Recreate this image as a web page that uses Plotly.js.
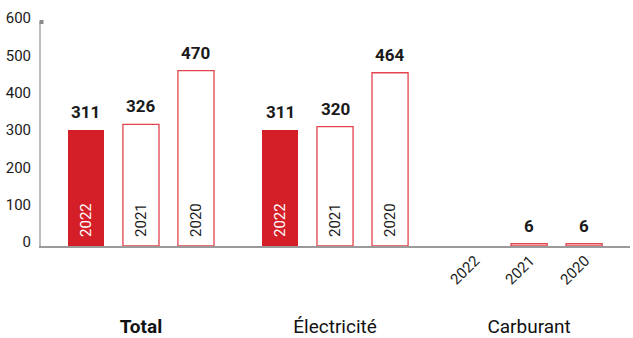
<!DOCTYPE html>
<html>
<head>
<meta charset="utf-8">
<script src="https://cdn.plot.ly/plotly-3.0.1.min.js"></script>
<style>html,body{margin:0;padding:0;background:#fff;}#chart{width:633px;height:338px;}</style>
</head>
<body>
<div id="chart"></div>
<script>
const categories = ['Total', 'Électricité', 'Carburant'];
const categoryLabels = ['<b>Total</b>', 'Électricité', 'Carburant'];
const years = ['2022', '2021', '2020'];
const values2022 = [311, 311, 0];
const values2021 = [326, 320, 6];
const values2020 = [470, 464, 6];

const series = [values2022, values2021, values2020];
const RED = '#d51f28';
const OUTLINE = '#e3434c';
const OFFSET = 0.2835;
const BARW = 0.186;

const traces = [];
const annotations = [];
series.forEach((vals, k) => {
  const xs = categories.map((c, i) => i + (k - 1) * OFFSET);
  traces.push({
    type: 'bar',
    name: years[k],
    x: xs,
    y: vals,
    width: BARW,
    marker: {
      color: k === 0 ? RED : '#ffffff',
      line: {color: k === 0 ? RED : OUTLINE, width: k === 0 ? 0 : 1.3}
    },
    hoverinfo: 'skip',
    showlegend: false
  });
  vals.forEach((v, i) => {
    if (v > 0) {
      annotations.push({
        x: xs[i], y: v, xref: 'x', yref: 'y',
        text: '<b>' + v + '</b>', showarrow: false,
        yanchor: 'bottom', yshift: 6,
        font: {family: 'Roboto', size: 17, color: '#1a1a1a'}
      });
    }
    if (v >= 50) {
      annotations.push({
        x: xs[i], y: 0, xref: 'x', yref: 'y',
        text: years[k], showarrow: false, textangle: -90,
        xanchor: 'center', yanchor: 'middle', yshift: 26,
        font: {family: 'Roboto', size: 15, color: k === 0 ? '#ffffff' : '#1a1a1a'}
      });
    } else {
      annotations.push({
        x: xs[i], y: 0, xref: 'x', yref: 'y',
        text: years[k], showarrow: false, textangle: -45,
        xanchor: 'center', yanchor: 'middle', yshift: -24, xshift: -9,
        font: {family: 'Roboto', size: 15, color: '#1a1a1a'}
      });
    }
  });
});

const layout = {
  width: 633, height: 338,
  margin: {l: 41, r: 3, t: 22, b: 92},
  paper_bgcolor: '#ffffff', plot_bgcolor: '#ffffff',
  font: {family: 'Roboto', color: '#1a1a1a'},
  xaxis: {
    range: [-0.515, 2.52],
    tickvals: categories.map((c, i) => i),
    ticktext: categoryLabels,
    tickfont: {family: 'Roboto', size: 19, color: '#111'},
    ticks: '', ticklabelstandoff: 63,
    showline: true, linecolor: '#9a9a9a', linewidth: 1.5,
    showgrid: false, zeroline: false, fixedrange: true
  },
  yaxis: {
    range: [0, 600],
    tickvals: [0, 100, 200, 300, 400, 500, 600],
    tickfont: {family: 'Roboto', size: 15, color: '#1a1a1a'},
    ticks: '', ticklabelstandoff: 5, ticklabelshift: -4,
    showline: true, linecolor: '#bdbdbd', linewidth: 2,
    showgrid: false, zeroline: false, fixedrange: true
  },
  shapes: [{
    type: 'rect', xref: 'paper', yref: 'paper',
    xsizemode: 'pixel', ysizemode: 'pixel', xanchor: 0, yanchor: 1,
    x0: -1.5, x1: 2.5, y0: -2, y1: 2,
    fillcolor: '#8a8a8a', line: {width: 0}
  }],
  annotations: annotations,
  bargap: 0
};

Plotly.newPlot('chart', traces, layout, {staticPlot: true, displayModeBar: false});
</script>
</body>
</html>
